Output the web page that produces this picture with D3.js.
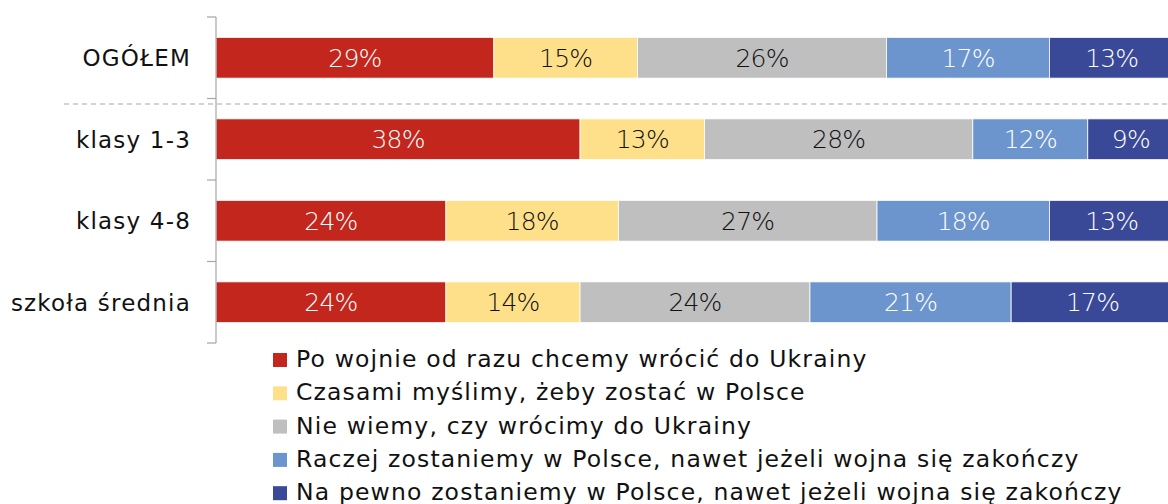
<!DOCTYPE html>
<html>
<head>
<meta charset="utf-8">
<script src="https://cdn.jsdelivr.net/npm/d3@7"></script>
<style>
  body { margin: 0; background: #fff; }
  svg text { font-family: "DejaVu Sans", sans-serif; }
</style>
</head>
<body>
<div id="chart"></div>
<script>
// data
const groups = ["OGÓŁEM", "klasy 1-3", "klasy 4-8", "szkoła średnia"];
const answers = [
  "Po wojnie od razu chcemy wrócić do Ukrainy",
  "Czasami myślimy, żeby zostać w Polsce",
  "Nie wiemy, czy wrócimy do Ukrainy",
  "Raczej zostaniemy w Polsce, nawet jeżeli wojna się zakończy",
  "Na pewno zostaniemy w Polsce, nawet jeżeli wojna się zakończy"
];
const returnNow   = [29, 38, 24, 24];
const maybeStay   = [15, 13, 18, 14];
const dontKnow    = [26, 28, 27, 24];
const ratherStay  = [17, 12, 18, 21];
const surelyStay  = [13, 9, 13, 17];

const colors = ["#C3261C", "#FFE08A", "#BFBFBF", "#6D95CD", "#3A4898"];
const labelColors = ["#fff", "#111", "#111", "#fff", "#fff"];

const series = [returnNow, maybeStay, dontKnow, ratherStay, surelyStay];

// table for d3.stack
const table = groups.map((g, i) => {
  const row = { group: g };
  answers.forEach((a, k) => row[a] = series[k][i]);
  return row;
});

const svgWidth = 1168, svgHeight = 504;
const margin = { top: 17, left: 216 };

const svg = d3.select("#chart").append("svg")
  .attr("width", svgWidth)
  .attr("height", svgHeight);

const x = d3.scaleLinear().domain([0, 100]).range([margin.left, 1174]);
const y = d3.scaleBand().domain(groups).range([17, 343]).paddingInner(0.5).paddingOuter(0.25);

const stacked = d3.stack().keys(answers)(table);

const layers = svg.selectAll("g.layer")
  .data(stacked)
  .join("g")
  .attr("class", "layer");

layers.selectAll("rect")
  .data(d => d.map(p => ({ p, key: d.key })))
  .join("rect")
  .attr("x", d => x(d.p[0]))
  .attr("y", d => y(d.p.data.group))
  .attr("width", d => x(d.p[1]) - x(d.p[0]))
  .attr("height", y.bandwidth())
  .attr("fill", d => colors[answers.indexOf(d.key)])
  .attr("stroke", "#fff")
  .attr("stroke-width", 0.8);

layers.selectAll("text")
  .data(d => d.map(p => ({ p, key: d.key })))
  .join("text")
  .attr("x", d => (x(d.p[0]) + x(d.p[1])) / 2)
  .attr("y", d => y(d.p.data.group) + y.bandwidth() / 2)
  .attr("dy", "0.36em")
  .attr("text-anchor", "middle")
  .attr("font-size", 25)
  .attr("font-weight", 200)
  .attr("letter-spacing", -0.8)
  .attr("fill", d => labelColors[answers.indexOf(d.key)])
  .text(d => (d.p[1] - d.p[0]) + "%");

// y axis: line with ticks between categories
const step = y.step();
const tickYs = d3.range(groups.length + 1).map(i => 17 + i * step);
svg.append("line")
  .attr("x1", margin.left).attr("x2", margin.left)
  .attr("y1", 17).attr("y2", 343)
  .attr("stroke", "#A6A6A6").attr("stroke-width", 1.2);
svg.selectAll("line.tick")
  .data(tickYs)
  .join("line")
  .attr("class", "tick")
  .attr("x1", margin.left - 9).attr("x2", margin.left)
  .attr("y1", d => d).attr("y2", d => d)
  .attr("stroke", "#A6A6A6").attr("stroke-width", 1.2);

svg.selectAll("text.cat")
  .data(groups)
  .join("text")
  .attr("class", "cat")
  .attr("x", 191)
  .attr("y", d => y(d) + y.bandwidth() / 2)
  .attr("dy", "0.36em")
  .attr("text-anchor", "end")
  .attr("font-size", 23)
  .attr("letter-spacing", 1.2)
  .attr("fill", "#111")
  .text(d => d);

// dashed separator below OGÓŁEM
svg.append("line")
  .attr("x1", 64).attr("x2", svgWidth)
  .attr("y1", 104).attr("y2", 104)
  .attr("stroke", "#A6A6A6")
  .attr("stroke-width", 1.2)
  .attr("stroke-dasharray", "5,4");

// legend
const legend = svg.selectAll("g.legend")
  .data(answers)
  .join("g")
  .attr("class", "legend")
  .attr("transform", (d, i) => `translate(273, ${367 + i * 33.3})`);

legend.append("rect")
  .attr("x", 0).attr("y", -14)
  .attr("width", 14).attr("height", 14)
  .attr("fill", (d, i) => colors[i]);

legend.append("text")
  .attr("x", 23)
  .attr("y", 0)
  .attr("font-size", 23.5)
  .attr("letter-spacing", 1.15)
  .attr("fill", "#111")
  .text(d => d);
</script>
</body>
</html>
